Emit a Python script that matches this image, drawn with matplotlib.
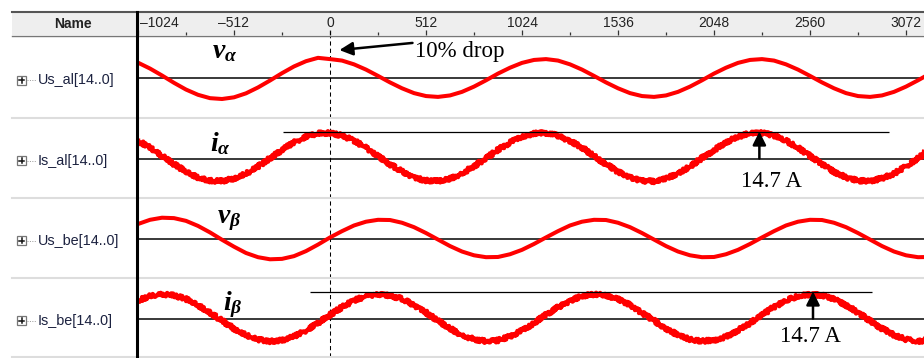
import numpy as np
import matplotlib.pyplot as plt
from matplotlib.patches import Rectangle

plt.rcParams['font.family'] = ['Liberation Sans', 'DejaVu Sans']
plt.rcParams['mathtext.fontset'] = 'custom'
plt.rcParams['mathtext.it'] = 'Liberation Serif:italic:bold'
plt.rcParams['mathtext.rm'] = 'Liberation Serif:bold'

# sample index of the captured traces (one point every 64 samples)
samples = np.arange(-1024, 3201, 64)

# grid voltages in per unit, 10 % sag at sample 0
v_alpha = [0.73, 0.45, 0.12, -0.23, -0.55, -0.80, -0.96, -1.00, -0.92, -0.73, -0.45, -0.12,
           0.23, 0.55, 0.80, 0.96, 0.90, 0.83,
           0.65, 0.40, 0.10, -0.21, -0.49, -0.72, -0.86, -0.90, -0.83, -0.66, -0.41, -0.11,
           0.21, 0.49, 0.72, 0.86, 0.90, 0.83,
           0.65, 0.40, 0.10, -0.21, -0.49, -0.72, -0.86, -0.90, -0.83, -0.66, -0.41, -0.11,
           0.21, 0.49, 0.72, 0.86, 0.90, 0.83,
           0.65, 0.40, 0.10, -0.21, -0.49, -0.72, -0.86, -0.90, -0.83, -0.66, -0.41, -0.11, 0.21]
v_beta = [0.69, 0.89, 0.99, 0.97, 0.84, 0.60, 0.29, -0.06, -0.39, -0.69, -0.89, -0.99,
          -0.97, -0.84, -0.60, -0.29, 0.05, 0.35,
          0.62, 0.80, 0.89, 0.88, 0.75, 0.54, 0.26, -0.05, -0.36, -0.62, -0.80, -0.89,
          -0.88, -0.75, -0.54, -0.26, 0.05, 0.35,
          0.62, 0.80, 0.89, 0.88, 0.75, 0.54, 0.26, -0.05, -0.36, -0.62, -0.80, -0.89,
          -0.88, -0.75, -0.54, -0.26, 0.05, 0.35,
          0.62, 0.80, 0.89, 0.88, 0.75, 0.54, 0.26, -0.05, -0.36, -0.62, -0.80, -0.89, -0.88]

# stator currents in A
i_alpha = [9.7, 5.9, 1.4, -3.1, -7.2, -10.3, -12.1, -12.3, -10.9, -8.2, -4.3, 0.2,
           4.7, 8.8, 11.9, 13.7, 13.9, 12.5,
           9.8, 5.8, 1.5, -3.2, -7.1, -10.4, -12.0, -12.3, -11.0, -8.1, -4.2, 0.1,
           4.8, 8.7, 12.0, 13.6, 14.0, 12.4,
           9.6, 6.0, 1.3, -3.0, -7.3, -10.2, -12.2, -12.4, -10.8, -8.3, -4.4, 0.3,
           4.6, 8.9, 11.8, 13.8, 13.9, 12.6,
           9.7, 5.9, 1.4, -3.1, -7.2, -10.3, -12.1, -12.2, -10.9, -8.2, -4.3, 0.2, 4.7]
i_beta = [9.8, 12.2, 13.2, 12.6, 10.6, 7.3, 3.2, -1.2, -5.5, -9.0, -11.4, -12.4,
          -11.8, -9.8, -6.5, -2.5, 2.0, 6.2,
          9.9, 12.1, 13.3, 12.5, 10.7, 7.2, 3.3, -1.3, -5.4, -9.1, -11.3, -12.4,
          -11.9, -9.7, -6.6, -2.4, 2.1, 6.1,
          9.7, 12.3, 13.2, 12.7, 10.5, 7.4, 3.1, -1.1, -5.6, -8.9, -11.5, -12.3,
          -11.8, -9.9, -6.4, -2.6, 1.9, 6.3,
          9.8, 12.2, 13.1, 12.6, 10.6, 7.3, 3.2, -1.2, -5.5, -9.0, -11.4, -12.4, -11.8]

signal_names = ['Us_al[14..0]', 'Is_al[14..0]', 'Us_be[14..0]', 'Is_be[14..0]']
signal_labels = [r'$v_\alpha$', r'$i_\alpha$', r'$v_\beta$', r'$i_\beta$']
tick_pos = [-1024, -512, 0, 512, 1024, 1536, 2048, 2560, 3072]
tick_labels = ['\u20131024', '\u2013512', '0', '512', '1024', '1536', '2048', '2560', '3072']
peak_current = 14.7

W, H = 924, 358
X_MIN, X_MAX = -1024, 3168
RED = '#ff0000'


def fig_box(x0, y0, x1, y1):
    return [x0 / W, 1 - y1 / H, (x1 - x0) / W, (y1 - y0) / H]


fig = plt.figure(figsize=(W / 100, H / 100), dpi=100)
fig.patch.set_facecolor('white')

# pixel-space layer for the name column, borders and labels
deco = fig.add_axes([0, 0, 1, 1], zorder=5)
deco.set_xlim(0, W)
deco.set_ylim(H, 0)
deco.axis('off')
deco.patch.set_visible(False)

deco.add_patch(Rectangle((12, 12), 125, 23, facecolor='#eeeeee', edgecolor='none'))
deco.plot([12, W], [12, 12], color='#555555', lw=1.5)
deco.plot([12, W], [35.5, 35.5], color='#777777', lw=1.0)
for y in [118, 198, 278, 357]:
    deco.plot([12, W], [y, y], color='#dddddd', lw=1.5)
deco.plot([137, 137], [12, H], color='black', lw=2.2)
deco.text(73, 24, 'Name', ha='center', va='center', fontsize=10, fontweight='bold', color='#222222')

baselines = [78, 158.5, 238.5, 318.5]
for name, yb in zip(signal_names, baselines):
    y = yb + 2
    deco.add_patch(Rectangle((17, y - 4.5), 9, 9, facecolor='white', edgecolor='#777777', lw=0.9))
    deco.plot([19, 24], [y, y], color='#111111', lw=1.1)
    deco.plot([21.5, 21.5], [y - 2.5, y + 2.5], color='#111111', lw=1.1)
    deco.plot([27, 36], [y, y], color='#999999', lw=0.7, ls=(0, (1, 1.5)))
    deco.text(38, y, name, ha='left', va='center', fontsize=10.4, color='#1c2240')

label_pos = [(212, 58), (210, 151), (217, 223), (223, 310)]
for lab, (x, y) in zip(signal_labels, label_pos):
    deco.text(x, y, lab, ha='left', va='baseline', fontsize=20, color='black')

# time axis header
hx = fig.add_axes(fig_box(138, 12.5, W, 35))
hx.set_facecolor('#eeeeee')
hx.set_xlim(X_MIN, X_MAX)
hx.set_ylim(0, 1)
for s in hx.spines.values():
    s.set_visible(False)
hx.set_xticks(tick_pos)
hx.set_xticks(np.arange(-768, X_MAX, 512), minor=True)
hx.set_yticks([])
hx.tick_params(axis='x', which='major', direction='in', length=3.6, width=0.9,
               color='#333333', labelbottom=False)
hx.tick_params(axis='x', which='minor', direction='in', length=2, width=0.9, color='#333333')
for pos, lab in zip(tick_pos, tick_labels):
    if pos == X_MIN:
        hx.text(pos + 10, 0.52, lab, ha='left', va='center', fontsize=10, color='#222222')
    else:
        hx.text(pos, 0.52, lab, ha='center', va='center', fontsize=10, color='#222222')
hx.axvline(0, ymin=0, ymax=0.25, color='black', lw=0.75, ls=(0, (4, 3)))


def wave_axes(top, bottom, base, units_per_px):
    ax = fig.add_axes(fig_box(138, top, W, bottom))
    ax.set_xlim(X_MIN, X_MAX)
    ax.set_ylim(-(bottom - base) * units_per_px, (base - top) * units_per_px)
    ax.axis('off')
    ax.axhline(0, color='#2a2a2a', lw=1.3)
    ax.axvline(0, color='black', lw=0.75, ls=(0, (4, 3)))
    return ax


V_SCALE = 1 / 21.0
I_SCALE = peak_current / 27.0

ax_va = wave_axes(36, 118, 78, V_SCALE)
ax_ia = wave_axes(118, 198, 158.5, I_SCALE)
ax_vb = wave_axes(198, 278, 238.5, V_SCALE)
ax_ib = wave_axes(278, 357, 318.5, I_SCALE)

ax_va.plot(samples, v_alpha, color=RED, lw=2.9)
ax_vb.plot(samples, v_beta, color=RED, lw=2.9)
for ax, cur in [(ax_ia, i_alpha), (ax_ib, i_beta)]:
    line, = ax.plot(samples, cur, color=RED, lw=3.2)
    line.set_sketch_params(scale=1.8, length=2.5, randomness=2)

# voltage sag marker
ax_va.annotate('', xy=(50, 1.33), xytext=(440, 1.67),
               arrowprops=dict(arrowstyle='-|>', color='black', lw=1.8,
                               mutation_scale=20, shrinkA=0, shrinkB=0))
ax_va.text(455, 1.0, '10% drop', ha='left', va='baseline', fontsize=16.5,
           family='Liberation Serif', color='black')

# peak current markers
for ax, x_arrow, x_from, x_to, x_text, y_text in [
        (ax_ia, 2290, -251, 2981, 2352, -15.5),
        (ax_ib, 2576, -107, 2891, 2560, -12.8)]:
    ax.hlines(peak_current, x_from, x_to, color='black', lw=0.9)
    ax.annotate('', xy=(x_arrow, peak_current), xytext=(x_arrow, 0),
                arrowprops=dict(arrowstyle='-|>', color='black', lw=1.8,
                                mutation_scale=20, shrinkA=0, shrinkB=0))
    ax.text(x_text, y_text, f'{peak_current} A', ha='center', va='baseline', fontsize=16.5,
            family='Liberation Serif', color='black')

fig.savefig('out.png', dpi=100)
